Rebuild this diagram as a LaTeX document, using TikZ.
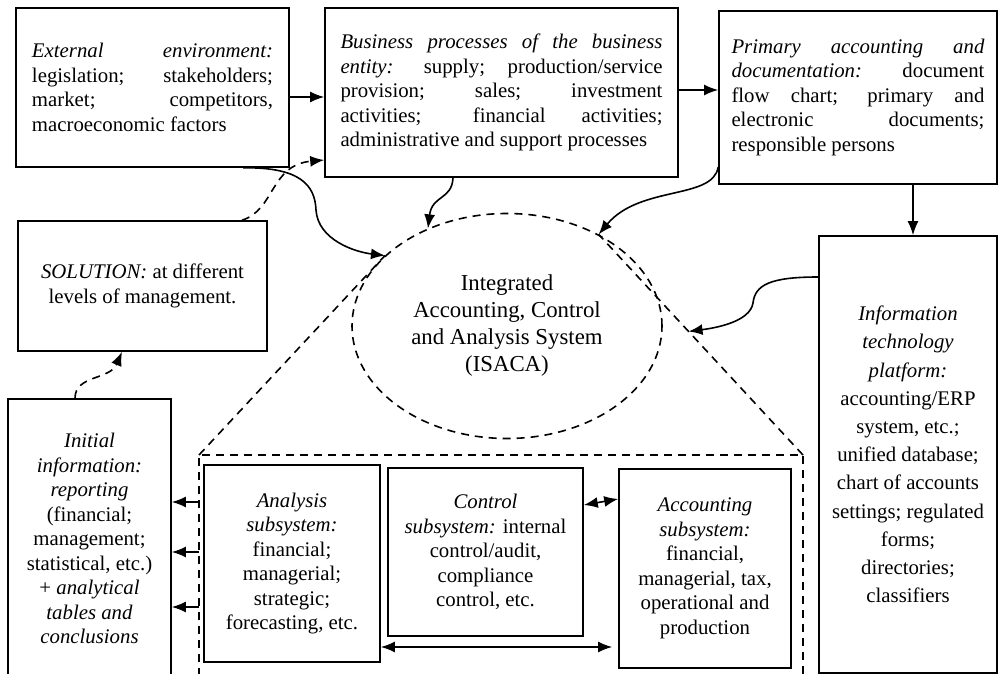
\documentclass[tikz,border=0pt]{standalone}
\usepackage{fontspec}
\setmainfont{Liberation Serif}
\usetikzlibrary{arrows.meta,shapes.geometric,calc}
\tolerance=10000
\hyphenpenalty=10000

\begin{document}
\begin{tikzpicture}[x=0.5pt,y=-0.5pt,
  every node/.style={font=\fontsize{10.4}{12.25}\selectfont},
  box/.style={draw,line width=0.8pt,inner sep=0pt,align=center},
  jbox/.style={box,align=justify},
  link/.style={line width=0.8pt,-{Latex[length=7pt,width=5.5pt]}},
  biarrow/.style={line width=0.8pt,{Latex[length=7pt,width=5.5pt]}-{Latex[length=7pt,width=5.5pt]}},
  dlink/.style={link,dash pattern=on 4pt off 3pt},
  zoomline/.style={line width=0.8pt,dash pattern=on 4pt off 3pt}]
\clip (0,0) rectangle (998,674);

% top row
\node[jbox,minimum width=136.5pt,minimum height=79.5pt,text width=120.5pt] (ext) at (152.5,87.5)
  {\textit{External environment:}\linebreak legislation; stakeholders;\linebreak market; competitors,\linebreak macroeconomic factors};
\node[jbox,minimum width=176.5pt,minimum height=84.5pt,text width=161pt] (bproc) at (501.5,92.5)
  {\textit{Business processes of the business}\linebreak \textit{entity:} supply; production/service\linebreak provision; sales; investment\linebreak activities; financial activities;\linebreak administrative and support processes};
\node[jbox,minimum width=139pt,minimum height=86.5pt,text width=126.5pt] (prim) at (858,97.5)
  {\textit{Primary accounting and}\linebreak \textit{documentation:} document\linebreak flow chart; primary and\linebreak electronic documents;\linebreak responsible persons};

% left column
\node[box,minimum width=124.5pt,minimum height=65pt] (sol) at (142.5,286)
  {\textit{SOLUTION:} at different\\ levels of management.};
\node[box,minimum width=81.5pt,minimum height=139.5pt] (init) at (89.5,538.5)
  {\textit{Initial}\\ \textit{information:}\\ \textit{reporting}\\ (financial;\\ management;\\ statistical, etc.)\\ + \textit{analytical}\\ \textit{tables and}\\ \textit{conclusions}};

% right column
\node[box,minimum width=89pt,minimum height=218.5pt,font=\fontsize{10.4}{14.1}\selectfont] (itp) at (908,454.5)
  {\textit{Information}\\ \textit{technology}\\ \textit{platform:}\\ accounting/ERP\\ system, etc.;\\ unified database;\\ chart of accounts\\ settings; regulated\\ forms;\\ directories;\\ classifiers};

% system and its zoomed view
\node[ellipse,zoomline,draw,minimum width=155pt,minimum height=112.5pt,inner sep=0pt,align=center,
  font=\fontsize{11.4}{13.5}\selectfont] (isaca) at (507,326)
  {Integrated\\ Accounting, Control\\ and Analysis System\\ (ISACA)};
\coordinate (zl) at (199,455);
\coordinate (zr) at (803,455);
\draw[zoomline] (zl |- 0,690) -- (zl) -- (zr) -- (zr |- 0,690);
\draw[zoomline] (zl) -- (isaca.150);
\draw[zoomline] (zr) -- (isaca.45);
\coordinate (itend) at ($(zr)!0.56!(isaca.45)$);

\node[box,minimum width=88pt,minimum height=98.5pt] (ana) at (292,563.5)
  {\textit{Analysis}\\ \textit{subsystem:}\\ financial;\\ managerial;\\ strategic;\\ forecasting, etc.};
\node[box,minimum width=97.5pt,minimum height=84pt] (ctrl) at (485.5,552)
  {\textit{Control}\\ \textit{subsystem:} internal\\ control/audit,\\ compliance\\ control, etc.};
\node[box,minimum width=86pt,minimum height=99.5pt] (acc) at (705,568.5)
  {\textit{Accounting}\\ \textit{subsystem:}\\ financial,\\ managerial, tax,\\ operational and\\ production};

% flows
\draw[link] (ext.east |- 0,97) -- (bproc.west |- 0,97);
\draw[link] (bproc.east |- 0,90) -- (prim.west |- 0,90);
\draw[link] (prim.south -| 913,0) -- (itp.north -| 913,0);
\draw[link] (243,0 |- ext.south) .. controls (300,167) and (315,185) .. (316,210)
  .. controls (318,240) and (355,252) .. (isaca.150);
\draw[link] (453,0 |- bproc.south) .. controls (452,200) and (432,195) .. (isaca.129);
\draw[link] (prim.west |- 0,167) .. controls (713,200) and (640,185) .. (isaca.45);
\draw[link] (itp.west |- 0,277) .. controls (770,277) and (755,285) .. (753,303)
  .. controls (750,322) and (715,328) .. (itend);
\draw[dlink] (242,0 |- sol.north) .. controls (275,210) and (270,165) .. (bproc.west |- 0,160);
\draw[dlink] (75,0 |- init.north) .. controls (75,375) and (110,380) .. (122,0 |- sol.south);
\foreach \y in {502,552,607}
  \draw[link] (zl |- 0,\y) -- (init.east |- 0,\y);
\draw[biarrow] (ctrl.east |- 0,505) -- (acc.west |- 0,499);
\draw[biarrow,shorten >=3pt] (ana.east |- 0,647) -- (acc.west |- 0,647);
\end{tikzpicture}
\end{document}
